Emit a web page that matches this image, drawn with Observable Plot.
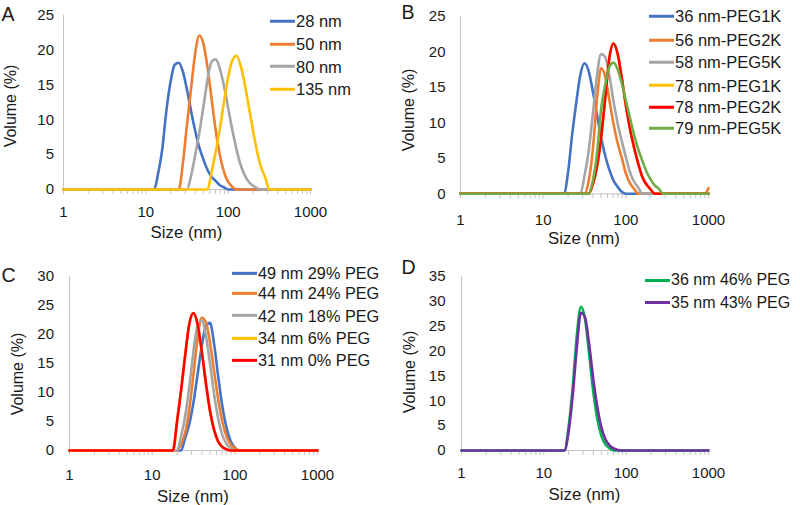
<!DOCTYPE html>
<html><head><meta charset="utf-8">
<script src="https://cdn.jsdelivr.net/npm/d3@7"></script>
<script src="https://cdn.jsdelivr.net/npm/@observablehq/plot@0.6"></script>
<style>
body{margin:0;background:#fff;font-family:"Liberation Sans",Arial,sans-serif;color:#1a1a1a}
#root{position:relative;width:800px;height:505px;overflow:hidden;background:#fff}
.abs{position:absolute}
.c{transform:translate(-50%,-50%);white-space:nowrap;line-height:1}
.rot{transform:translate(-50%,-50%) rotate(-90deg);white-space:nowrap;line-height:1}
.leg{display:flex;align-items:center;transform:translateY(-50%);white-space:nowrap;line-height:1}
.leg span.l{display:inline-block;width:25px;height:3px}
</style></head><body><div id="root"></div>
<script>
// ---------------- DATA ----------------
// Size bins (nm) shared by every distribution
const sizes = [1, 10, 12.6, 14.1, 15.8, 17.8, 20.0, 22.4, 25.1, 28.2, 31.6, 35.5, 39.8, 44.7, 50.1, 56.2,
  63.1, 70.8, 79.4, 89.1, 100, 112, 126, 141, 158, 178, 200, 224, 251, 282, 316, 500, 900, 1000];

// Panel A
const seriesA = ["28 nm", "50 nm", "80 nm", "135 nm"];
const volA28 = [0, 0, 0, 2.3, 5.7, 11.4, 15.5, 17.9, 18.2, 16.9, 14.3, 11.2, 8.4, 6.0, 4.3, 2.8, 1.8, 1.2, 0.6, 0.3, 0, 0, 0, 0, 0, 0, 0, 0, 0, 0, 0, 0, 0, 0];
const volA50 = [0, 0, 0, 0, 0, 0, 0, 0, 0, 3.8, 9.3, 14.6, 19.6, 22.1, 20.9, 17.5, 12.9, 8.4, 4.9, 2.5, 1.1, 0.4, 0, 0, 0, 0, 0, 0, 0, 0, 0, 0, 0, 0];
const volA80 = [0, 0, 0, 0, 0, 0, 0, 0, 0, 0, 0, 2.0, 5.0, 8.2, 11.9, 15.8, 18.4, 18.7, 17.3, 14.8, 11.7, 8.6, 5.8, 3.6, 2.1, 1.1, 0.55, 0.2, 0, 0, 0, 0, 0, 0];
const volA135 = [0, 0, 0, 0, 0, 0, 0, 0, 0, 0, 0, 0, 0, 0, 0, 0, 2.6, 5.5, 8.8, 12.6, 16.1, 18.5, 19.2, 17.9, 15.3, 11.9, 8.5, 5.5, 3.2, 1.7, 0, 0, 0, 0];

// Panel B
const seriesB = ["36 nm-PEG1K", "56 nm-PEG2K", "58 nm-PEG5K", "78 nm-PEG1K", "78 nm-PEG2K", "79 nm-PEG5K"];
const volB36 = [0, 0, 0, 0, 0, 0, 3.0, 8.3, 12.8, 16.8, 18.4, 17.3, 14.5, 11.2, 8.0, 5.4, 3.4, 1.9, 1.0, 0.3, 0, 0, 0, 0, 0, 0, 0, 0, 0, 0, 0, 0, 0, 0];
const volB56 = [0, 0, 0, 0, 0, 0, 0, 0, 0, 0, 0, 1.8, 6.1, 13.2, 17.7, 16.6, 13.3, 9.9, 7.2, 5.1, 2.9, 1.5, 0.7, 0, 0, 0, 0, 0, 0, 0, 0, 0, 0, 0.8];
const volB58 = [0, 0, 0, 0, 0, 0, 0, 0, 0, 0, 2.5, 6.0, 11.1, 16.6, 19.7, 19.3, 16.7, 13.1, 10.0, 7.5, 5.2, 3.1, 1.7, 0.9, 0, 0, 0, 0, 0, 0, 0, 0, 0, 0];
const volB78a = [0, 0, 0, 0, 0, 0, 0, 0, 0, 0, 0, 0, 1.3, 3.8, 7.8, 13.4, 19.1, 21.2, 19.8, 16.4, 12.5, 9.2, 6.5, 4.3, 2.4, 1.3, 0.6, 0, 0, 0, 0, 0, 0, 0];
const volB78b = [0, 0, 0, 0, 0, 0, 0, 0, 0, 0, 0, 0, 1.3, 3.8, 7.8, 13.4, 19.1, 21.2, 19.8, 16.4, 12.5, 9.2, 6.5, 4.3, 2.4, 1.3, 0.6, 0, 0, 0, 0, 0, 0, 0];
const volB79 = [0, 0, 0, 0, 0, 0, 0, 0, 0, 0, 0, 0, 1.8, 5.6, 11.8, 15.3, 17.9, 18.5, 17.6, 15.6, 13.2, 10.7, 8.3, 6.3, 4.7, 3.1, 2.0, 1.2, 0.7, 0, 0, 0, 0, 0];

// Panel C
const seriesC = ["49 nm 29% PEG", "44 nm 24% PEG", "42 nm 18% PEG", "34 nm 6% PEG", "31 nm 0% PEG"];
const volC49 = [0, 0, 0, 0, 0, 0, 0, 0, 2.2, 4.6, 8.3, 13.2, 18.0, 21.4, 22.0, 18.3, 12.6, 7.5, 3.9, 1.6, 0.5, 0, 0, 0, 0, 0, 0, 0, 0, 0, 0, 0, 0, 0];
const volC44 = [0, 0, 0, 0, 0, 0, 0, 1.1, 3.1, 7.2, 13.2, 19.4, 22.9, 22.1, 18.6, 13.6, 8.7, 4.9, 2.4, 1.0, 0.4, 0, 0, 0, 0, 0, 0, 0, 0, 0, 0, 0, 0, 0];
const volC42 = [0, 0, 0, 0, 0, 0, 0, 2.5, 5.9, 11.1, 17.1, 21.6, 22.4, 19.8, 15.0, 9.7, 5.4, 2.6, 1.1, 0.4, 0, 0, 0, 0, 0, 0, 0, 0, 0, 0, 0, 0, 0, 0];
const volC34 = [0, 0, 0, 0, 0, 0, 5.0, 10.4, 16.5, 21.9, 23.7, 21.7, 17.1, 11.6, 6.8, 3.5, 1.5, 0.6, 0.2, 0, 0, 0, 0, 0, 0, 0, 0, 0, 0, 0, 0, 0, 0, 0];
const volC31 = [0, 0, 0, 0, 0, 0, 5.0, 10.4, 16.5, 21.9, 23.7, 21.7, 17.1, 11.6, 6.8, 3.5, 1.5, 0.6, 0.2, 0, 0, 0, 0, 0, 0, 0, 0, 0, 0, 0, 0, 0, 0, 0];

// Panel D
const seriesD = ["36 nm 46% PEG", "35 nm 43% PEG"];
const volD36 = [0, 0, 0, 0, 0, 0, 4.8, 12.6, 23.0, 28.9, 26.5, 19.4, 11.9, 6.3, 2.9, 1.2, 0.4, 0, 0, 0, 0, 0, 0, 0, 0, 0, 0, 0, 0, 0, 0, 0, 0, 0];
const volD35 = [0, 0, 0, 0, 0, 0, 3.8, 11.0, 20.5, 27.7, 26.8, 21.4, 14.5, 8.7, 4.6, 2.2, 1.0, 0.4, 0.1, 0, 0, 0, 0, 0, 0, 0, 0, 0, 0, 0, 0, 0, 0, 0];

// Axis ticks and texts
const xLabelTicks = [1, 10, 100, 1000];
const yMaxA = 25, yMaxB = 25, yMaxC = 30, yMaxD = 35;
const panelLetters = ["A", "B", "C", "D"];
const xTitle = "Size (nm)";
const yTitle = "Volume (%)";

// ---------------- STYLE / LAYOUT ----------------
const BLUE = "#4472C4", ORANGE = "#ED7D31", GRAY = "#A5A5A5", YELLOW = "#FFC000",
      RED = "#FF0000", GREEN = "#70AD47", GREEN2 = "#00B050", PURPLE = "#7030A0";
const AXIS = "#c4c4c4";

const panels = [
  {labels: seriesA, vols: [volA28, volA50, volA80, volA135],
   colors: [BLUE, ORANGE, GRAY, YELLOW], ymax: yMaxA,
   left: 0, top: 0, w: 400, h: 250, m: [14.8, 90, 61, 63], xPad: 16.7, yPad: 9.5,
   legX: 270, legY: [21, 44, 66.5, 89.3], legFont: 16.5,
   sizeLbl: [186.5, 233], volLbl: [11, 106], letter: [1.5, 7.3]},
  {labels: seriesB, vols: [volB36, volB56, volB58, volB78a, volB78b, volB79],
   colors: [BLUE, ORANGE, GRAY, YELLOW, RED, GREEN], ymax: yMaxB,
   left: 400, top: 0, w: 400, h: 250, m: [16, 92, 56.7, 60], xPad: 20.5, yPad: 15,
   legX: 249, legY: [16, 40, 62, 85.7, 107.3, 128.3], legFont: 16.5,
   sizeLbl: [184, 239], volLbl: [9, 110], letter: [1.5, 5]},
  {labels: seriesC, vols: [volC49, volC44, volC42, volC34, volC31],
   colors: [BLUE, ORANGE, GRAY, YELLOW, RED], ymax: yMaxC,
   left: 0, top: 250, w: 400, h: 255, m: [26, 83, 55, 69], xPad: 18.5, yPad: 15.5,
   legX: 232, legY: [23.3, 43.3, 65.7, 88.3, 110], legFont: 16.3,
   sizeLbl: [193, 246.7], volLbl: [18, 124], letter: [1.5, 18.3]},
  {labels: seriesD, vols: [volD36, volD35],
   colors: [GREEN2, PURPLE], ymax: yMaxD,
   left: 400, top: 250, w: 400, h: 255, m: [26, 92, 55, 61], xPad: 17.2, yPad: 16,
   legX: 245, legY: [30, 52.7], legFont: 16,
   sizeLbl: [184.5, 245], volLbl: [10, 122], letter: [1.5, 10]}
];

const minorTicks = [];
for (const k of [1, 10, 100]) for (let m = 1; m <= 9; m++) minorTicks.push(m * k);
minorTicks.push(1000);

const root = document.getElementById("root");

function addDiv(cls, x, y, html, style) {
  const d = document.createElement("div");
  d.className = "abs " + cls;
  d.style.left = x + "px";
  d.style.top = y + "px";
  d.innerHTML = html;
  Object.assign(d.style, style || {});
  root.appendChild(d);
  return d;
}

panels.forEach((p, i) => {
  const data = p.labels.flatMap((lab, j) =>
    sizes.map((s, k) => ({series: lab, size: s, vol: p.vols[j][k]})));
  const yTicks = d3.range(0, p.ymax + 0.001, 5);
  const svg = Plot.plot({
    width: p.w, height: p.h,
    marginTop: p.m[0], marginRight: p.m[1], marginBottom: p.m[2], marginLeft: p.m[3],
    style: {fontFamily: "'Liberation Sans', Arial, sans-serif", fontSize: "15px", color: "#1a1a1a", background: "transparent", overflow: "visible"},
    x: {type: "log", domain: [1, 1000]},
    y: {domain: [0, p.ymax]},
    color: {domain: p.labels, range: p.colors},
    marks: [
      Plot.ruleX([1], {stroke: AXIS, strokeWidth: 1}),
      Plot.ruleY([0], {stroke: AXIS, strokeWidth: 1}),
      Plot.axisX({ticks: minorTicks, tickSize: 5, tickFormat: () => "", stroke: AXIS, label: null}),
      Plot.axisX({ticks: xLabelTicks, tickSize: 0, tickPadding: p.xPad, tickFormat: d => String(d), fontSize: 15, label: null}),
      Plot.axisY({ticks: yTicks, tickSize: 0, tickPadding: p.yPad, fontSize: 15, label: null}),
      Plot.line(data, {x: "size", y: "vol", z: "series", stroke: "series", curve: "monotone-x", strokeWidth: 2.6, strokeLinejoin: "round", strokeLinecap: "round"})
    ]
  });
  const holder = addDiv("", p.left, p.top, "", {width: p.w + "px", height: p.h + "px"});
  holder.appendChild(svg);

  addDiv("c", p.left + p.sizeLbl[0], p.top + p.sizeLbl[1], xTitle, {fontSize: "16.8px"});
  addDiv("rot", p.left + p.volLbl[0], p.top + p.volLbl[1], yTitle, {fontSize: "16px"});
  addDiv("", p.left + p.letter[0], p.top + p.letter[1] - 2.5, panelLetters[i], {fontSize: "19.5px", lineHeight: "1"});

  p.labels.forEach((lab, j) => {
    addDiv("leg", p.left + p.legX, p.top + p.legY[j],
      `<span class="l" style="background:${p.colors[j]}"></span><span style="margin-left:1px">${lab}</span>`,
      {fontSize: p.legFont + "px"});
  });
});
</script></body></html>
